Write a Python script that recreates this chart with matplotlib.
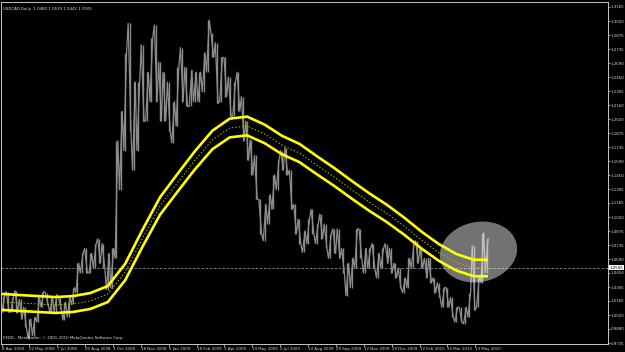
import numpy as np
import matplotlib
matplotlib.use("Agg")
import matplotlib.pyplot as plt
from matplotlib.patches import Polygon

# ---------------- data ----------------
title_text = "USDCAD,Daily  1.0480 1.0539 1.0442 1.0505"
footer_text = "FXDD - MetaTrader, \u00a9 2001-2010 MetaQuotes Software Corp."

date_labels = ["8 Apr 2008", "22 May 2008", "7 Jul 2008", "20 Aug 2008", "3 Oct 2008",
               "18 Nov 2008", "5 Jan 2009", "18 Feb 2009", "3 Apr 2009", "19 May 2009",
               "2 Jul 2009", "14 Aug 2009", "29 Sep 2009", "12 Nov 2009", "29 Dec 2009",
               "12 Feb 2010", "30 Mar 2010", "13 May 2010"]
bars_per_label = 32

price_ticks = [1.3165, 1.3020, 1.2875, 1.2735, 1.2590, 1.2450, 1.2305, 1.2160, 1.2020,
               1.1875, 1.1735, 1.1590, 1.1450, 1.1305, 1.1165, 1.1020, 1.0875, 1.0735,
               1.0590, 1.0450, 1.0305, 1.0165, 1.0020, 0.9880, 0.9735]
last_price = 1.0505

# weekly high / low (week 0 = week of 7 Apr 2008)
week_high = [1.022, 1.026, 1.020, 1.027, 1.018, 1.010, 0.998, 1.000, 1.020, 1.026,
             1.025, 1.020, 1.023, 1.020, 1.015, 1.020, 1.030, 1.055, 1.065, 1.070,
             1.065, 1.075, 1.080, 1.075, 1.065, 1.070, 1.180, 1.210, 1.270, 1.300,
             1.240, 1.240, 1.278, 1.250, 1.285, 1.298, 1.260, 1.250, 1.240, 1.220,
             1.255, 1.275, 1.255, 1.252, 1.250, 1.250, 1.270, 1.303, 1.290, 1.280,
             1.265, 1.265, 1.245, 1.240, 1.250, 1.225, 1.200, 1.181, 1.165, 1.120,
             1.115, 1.125, 1.145, 1.160, 1.170, 1.173, 1.150, 1.115, 1.100, 1.088,
             1.100, 1.110, 1.095, 1.105, 1.095, 1.085, 1.090, 1.090, 1.070, 1.055,
             1.060, 1.090, 1.090, 1.070, 1.070, 1.075, 1.065, 1.070, 1.075, 1.070,
             1.055, 1.050, 1.040, 1.060, 1.075, 1.078, 1.070, 1.060, 1.060, 1.040,
             1.035, 1.030, 1.030, 1.020, 1.010, 1.010, 1.010, 1.025, 1.073, 1.041,
             1.086, 1.080]
week_low = [1.005, 1.005, 1.005, 1.004, 0.998, 0.990, 0.978, 0.981, 0.995, 1.010,
            1.012, 1.005, 1.005, 1.008, 0.997, 1.000, 1.013, 1.025, 1.045, 1.045,
            1.045, 1.050, 1.055, 1.050, 1.028, 1.030, 1.060, 1.130, 1.170, 1.190,
            1.150, 1.170, 1.200, 1.200, 1.220, 1.220, 1.200, 1.200, 1.190, 1.178,
            1.195, 1.220, 1.215, 1.215, 1.220, 1.220, 1.230, 1.250, 1.265, 1.218,
            1.220, 1.225, 1.205, 1.205, 1.210, 1.180, 1.160, 1.145, 1.120, 1.085,
            1.078, 1.095, 1.110, 1.130, 1.150, 1.145, 1.110, 1.085, 1.075, 1.066,
            1.075, 1.085, 1.075, 1.080, 1.070, 1.060, 1.065, 1.060, 1.045, 1.022,
            1.030, 1.050, 1.060, 1.045, 1.050, 1.050, 1.040, 1.050, 1.055, 1.045,
            1.040, 1.030, 1.025, 1.030, 1.050, 1.055, 1.050, 1.040, 1.035, 1.025,
            1.020, 1.010, 1.010, 1.000, 0.995, 0.995, 0.993, 1.000, 1.007, 1.010,
            1.035, 1.045]

# moving average (dotted centre line), sampled at these weeks
ma_weeks = [0, 4, 8, 12, 16, 20, 24, 28, 32, 36, 40, 44, 48, 52, 56, 60, 64, 68,
            72, 76, 80, 84, 88, 92, 96, 100, 104, 108, 111]
ma_values = [1.0154, 1.0143, 1.0133, 1.0123, 1.0133, 1.0164, 1.0235, 1.0460, 1.0807,
             1.1134, 1.1370, 1.1600, 1.1807, 1.1930, 1.1950, 1.1870, 1.1756, 1.1675,
             1.1550, 1.1430, 1.1300, 1.1175, 1.1060, 1.0930, 1.0787, 1.0660, 1.0560,
             1.0501, 1.0501]
envelope_pct = 0.8

# highlighted zone (centre in bars / price)
zone_center = (547.6, 1.0664)

# ---------------- figure ----------------
W, H = 625, 352
fig = plt.figure(figsize=(W / 100, H / 100), dpi=100, facecolor="black")
ax = fig.add_axes([1 / W, 8 / H, 607 / W, 342 / H], facecolor="black")

px_per_bar = 0.871
xmin = -0.6
xmax = xmin + 607 / px_per_bar
ymin, ymax = 0.9725, 1.3216
ax.set_xlim(xmin, xmax)
ax.set_ylim(ymin, ymax)

hi = np.array(week_high)
lo = np.array(week_low)
wk = np.arange(len(hi))
wk_bar = wk * 5 + 2
bar_color = "#8c8c8c"
ax.vlines(wk_bar, lo, hi, color=bar_color, lw=1.0, zorder=2)
# jagged trace through each week's range, in the direction of the move
xs, ys = [], []
for i in range(len(hi)):
    j = min(i + 1, len(hi) - 1)
    up = (hi[j] + lo[j]) >= (hi[i] + lo[i])
    first, second = (lo[i], hi[i]) if up else (hi[i], lo[i])
    xs += [wk_bar[i] - 1.6, wk_bar[i] + 1.6]
    ys += [first, second]
ax.plot(xs, ys, color=bar_color, lw=0.9, zorder=2)

# highlight ellipse (drawn in pixel space, converted to data units)
bars_per_px = 1 / px_per_bar
price_per_px = (ymax - ymin) / 342
t = np.linspace(0, 2 * np.pi, 200)
a, b, th = 39, 30, np.deg2rad(12)
dx = a * np.cos(t) * np.cos(th) - b * np.sin(t) * np.sin(th)
dy = a * np.cos(t) * np.sin(th) + b * np.sin(t) * np.cos(th)
ell = Polygon(np.column_stack([zone_center[0] + dx * bars_per_px,
                               zone_center[1] + dy * price_per_px]),
              closed=True, facecolor="white", alpha=0.45, edgecolor="none", zorder=3)
ax.add_patch(ell)

ma_bar = np.array(ma_weeks) * 5 + 2
ma = np.array(ma_values)
ax.plot(ma_bar, ma, color="#b8b800", lw=0.7, ls=(0, (1.5, 2)), zorder=4)
ax.plot(ma_bar, ma * (1 + envelope_pct / 100), color="#ffff00", lw=1.9, zorder=5,
        solid_joinstyle="round")
ax.plot(ma_bar, ma * (1 - envelope_pct / 100), color="#ffff00", lw=1.9, zorder=5,
        solid_joinstyle="round")

# current price line
ax.axhline(last_price, color="#7d8ea0", lw=0.6, ls=(0, (3, 2)), zorder=1)

# axes styling
for s in ax.spines.values():
    s.set_color("#c8c8c8")
    s.set_linewidth(0.7)
ax.yaxis.tick_right()
ax.set_yticks(price_ticks)
ax.set_yticklabels([f"{v:.4f}" for v in price_ticks])
ax.set_xticks([i * bars_per_label for i in range(len(date_labels))])
ax.set_xticklabels(date_labels, ha="left")
ax.tick_params(axis="y", colors="#d8d8d8", labelsize=2.85, length=1.5, width=0.5, pad=0.5)
ax.tick_params(axis="x", colors="#d8d8d8", labelsize=2.9, length=2, width=0.5, pad=0.5)
ax.tick_params(left=False, top=False)

# current price tag
ax.text(1.003, (last_price - ymin) / (ymax - ymin), f"{last_price:.4f}",
        transform=ax.transAxes, fontsize=2.85, color="black", va="center", ha="left",
        bbox=dict(boxstyle="square,pad=0.12", fc="white", ec="none"), clip_on=False, zorder=10)

ax.text(0.004, 0.985, title_text, transform=ax.transAxes, fontsize=2.8,
        color="#e0e0e0", va="top", ha="left")
ax.text(0.003, 0.012, footer_text, transform=ax.transAxes, fontsize=2.8,
        color="#e0e0e0", va="bottom", ha="left")

fig.savefig("out.png", dpi=100, facecolor="black")
